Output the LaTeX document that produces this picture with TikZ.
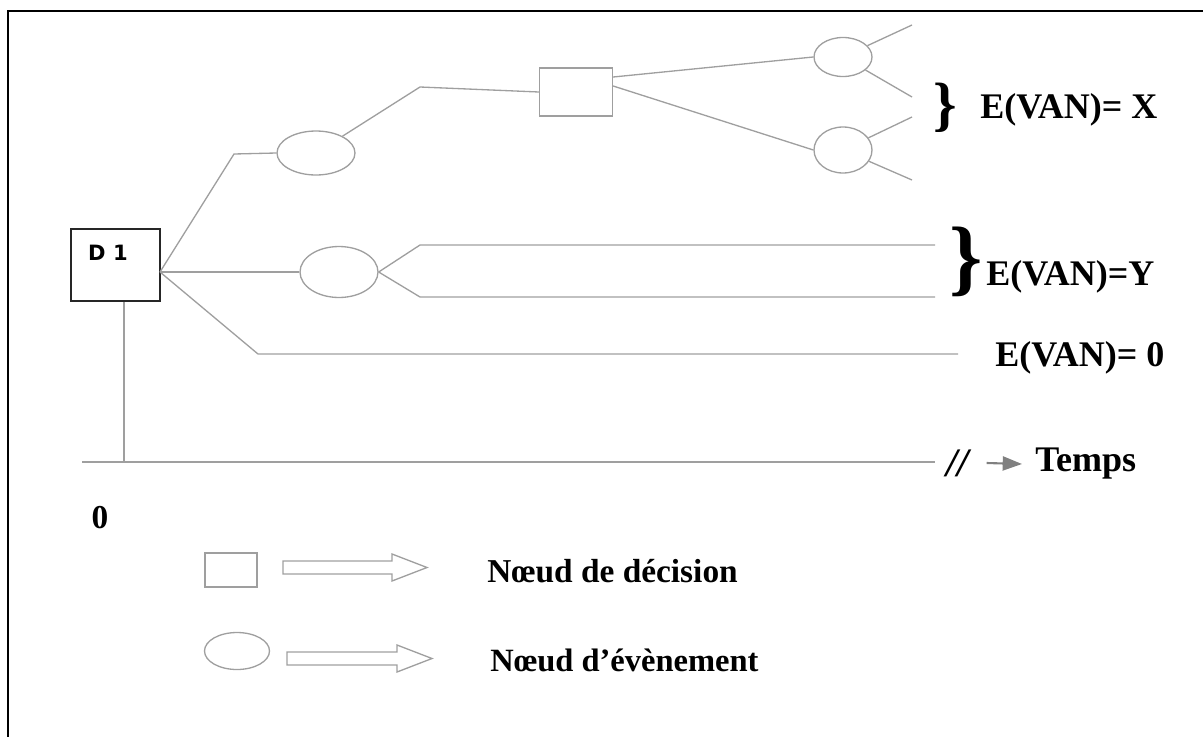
\documentclass[tikz,border=0pt]{standalone}
\usepackage{fontspec}
\setmainfont{Liberation Serif}
\newfontfamily\dejavu{DejaVu Sans}
\usetikzlibrary{shapes.geometric,arrows.meta}

\begin{document}
\begin{tikzpicture}[x=0.02cm,y=-0.02cm,
  branch/.style={draw=gray!75,line width=0.75pt},
  event/.style={ellipse,draw=gray!75,line width=0.75pt,inner sep=0pt},
  choice/.style={rectangle,draw=gray!75,line width=0.75pt,inner sep=0pt},
  lbl/.style={font=\fontsize{20.5}{24}\selectfont\bfseries,inner sep=0pt,anchor=west},
  legend/.style={draw=gray!75,line width=0.75pt}]
\useasboundingbox (0,0) rectangle (1203,737);

% cadre
\draw[line width=1.4pt] (1203,11) -- (8,11) -- (8,737);

% noeud de decision D 1
\node[draw=black!85,line width=1pt,minimum width=1.78cm,minimum height=1.44cm,inner sep=0pt] (d1) at (115.5,265) {};
\node[font=\dejavu\fontsize{12}{14}\selectfont\bfseries,inner sep=0pt] (d1txt) at (108,253) {D 1};
\coordinate (root) at (160,272);

% branche du haut
\coordinate (k1) at (234,154);
\node[event,minimum width=1.56cm,minimum height=0.88cm] (e1) at (316,153) {};
\coordinate (k2) at (420,87);
\node[choice,minimum width=1.46cm,minimum height=0.96cm] (sq) at (576,92) {};
\node[event,minimum width=1.16cm,minimum height=0.78cm] (e2a) at (843,57) {};
\node[event,minimum width=1.16cm,minimum height=0.92cm] (e2b) at (843,150) {};
\coordinate (f1) at (912,25);
\coordinate (f2) at (912,97);
\coordinate (f3) at (912,117);
\coordinate (f4) at (912,180);

\draw[branch] (root) -- (k1) -- (e1.west);
\draw[branch] (e1) -- (k2) -- (sq.west);
\draw[branch] ([yshift=0.3cm]sq.east) -- (e2a.west);
\draw[branch] ([yshift=0.12cm]sq.east) -- (e2b.west);
\draw[branch] (e2a) -- (f1);
\draw[branch] (e2a) -- (f2);
\draw[branch] (e2b) -- (f3);
\draw[branch] (e2b) -- (f4);

\node[font=\fontsize{34}{34}\selectfont\bfseries,inner sep=0pt] (bx) at (945,108) {\}};
\node[lbl] (vx) at (980,110) {E(VAN)= X};

% branche du milieu
\node[event,minimum width=1.56cm,minimum height=1.02cm] (e3) at (339,272) {};
\coordinate (k3) at (420,245);
\coordinate (k4) at (420,297);
\coordinate (g1) at (935,245);
\coordinate (g2) at (935,297);
\draw[branch] (root) -- (e3.west);
\draw[branch] (e3.east) -- (k3) -- (g1);
\draw[branch] (e3.east) -- (k4) -- (g2);

\node[font=\fontsize{48}{48}\selectfont\bfseries,inner sep=0pt] (by) at (966,262) {\}};
\node[lbl] (vy) at (986,277) {E(VAN)=Y};

% branche du bas
\coordinate (k5) at (258,354);
\coordinate (g3) at (958,354);
\draw[branch] (root) -- (k5) -- (g3);
\node[lbl] (v0) at (995,358) {E(VAN)= 0};

% axe du temps
\coordinate (t0) at (82,462);
\coordinate (t1) at (935,462);
\draw[branch] (d1.south -| 124,0) -- (124,462);
\draw[branch] (t0) -- (t1);
\node[lbl,font=\fontsize{23}{24}\selectfont\bfseries\itshape] (slash) at (946,463) {//};
\node[lbl] (temps) at (1035,464) {Temps};
\draw[gray,line width=1.2pt,-{Triangle[length=11pt,width=8pt]}] ([xshift=0.35cm]slash.east) -- ([xshift=-0.26cm]temps.west);
\node[font=\fontsize{19}{22}\selectfont\bfseries,inner sep=0pt] (zero) at (100,518) {0};

% legende
\node[choice,minimum width=1.04cm,minimum height=0.68cm] (lsq) at (231,570) {};
\draw[legend] (283,561) -- (392,561) -- (392,554) -- (427,567.5) -- (392,581) -- (392,574) -- (283,574) -- cycle;
\node[lbl,font=\fontsize{19}{22}\selectfont\bfseries] (ldec) at (487,571) {Nœud de décision};

\node[event,minimum width=1.3cm,minimum height=0.74cm] (lev) at (237,651) {};
\draw[legend] (287,652) -- (397,652) -- (397,645) -- (432,658.5) -- (397,672) -- (397,665) -- (287,665) -- cycle;
\node[lbl,font=\fontsize{18.5}{22}\selectfont\bfseries] (lev2) at (490,660) {Nœud d’évènement};
\end{tikzpicture}
\end{document}
